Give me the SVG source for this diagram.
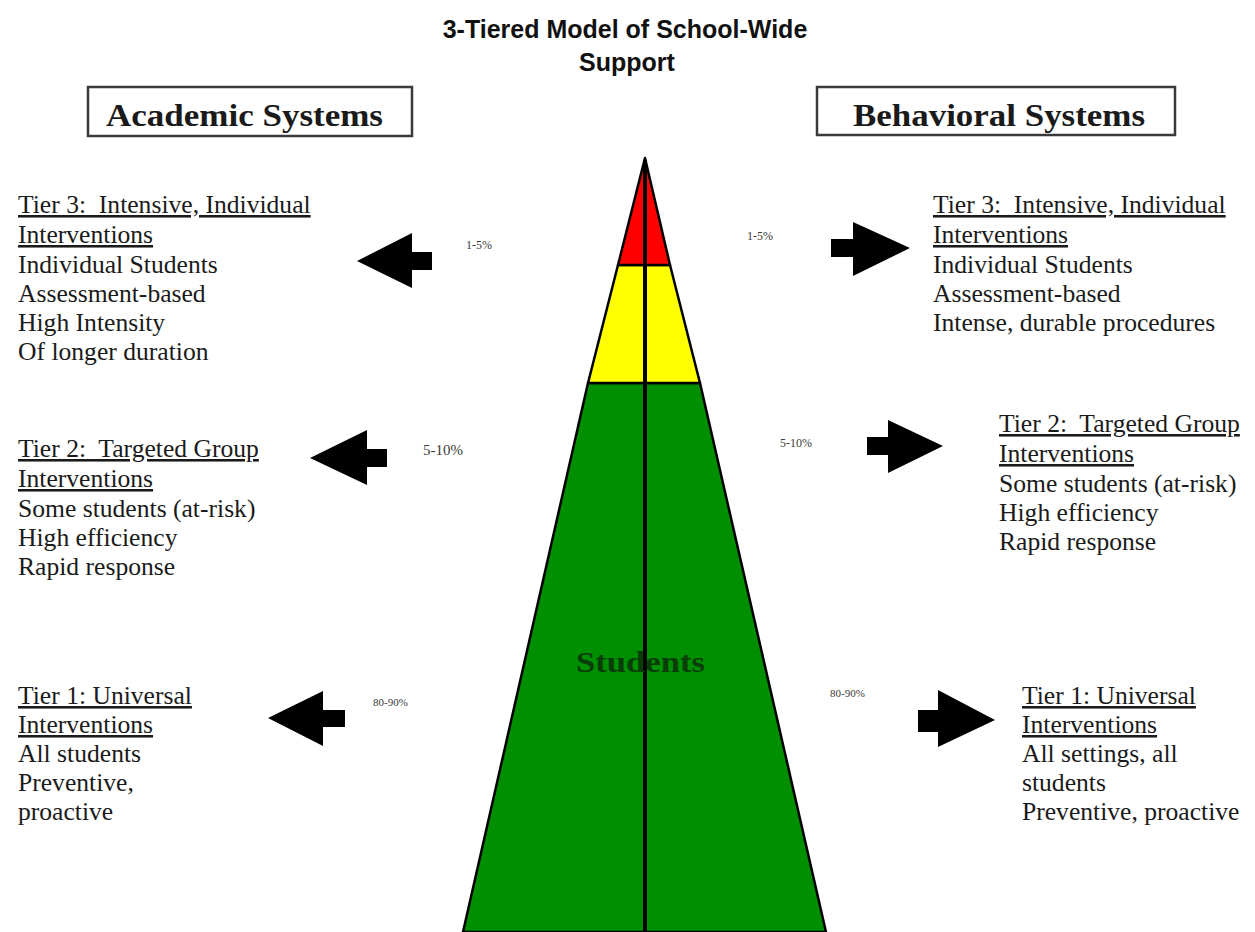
<svg xmlns="http://www.w3.org/2000/svg" width="1255" height="932" viewBox="0 0 1255 932">
<style>
.title{font-family:"Liberation Sans",Arial,sans-serif;font-weight:bold;font-size:25px;fill:#111;text-anchor:middle}
.hdr{font-family:"Liberation Serif","Times New Roman",serif;font-weight:bold;font-size:31px;fill:#1a1a1a}
.box{fill:#fff;stroke:#3a3a3a;stroke-width:2.5}
.body{font-family:"Liberation Serif","Times New Roman",serif;font-size:25.6px;fill:#1a1a1a;white-space:pre}
.ul{text-decoration:underline}
.pct{font-family:"Liberation Serif","Times New Roman",serif;font-size:12px;fill:#3a3a3a}
.arrow{fill:#000}
.seg{stroke:#000;stroke-width:2.5;stroke-linejoin:round}
</style>
<rect width="1255" height="932" fill="#fff"/>
<g id="title">
<text class="title" x="625" y="38">3-Tiered Model of School-Wide</text>
<text class="title" x="627" y="71">Support</text>
</g>
<g id="academic-header">
<rect class="box" x="88" y="87" width="324" height="49"/>
<text class="hdr" x="106" y="126" textLength="277" lengthAdjust="spacingAndGlyphs">Academic Systems</text>
</g>
<g id="behavioral-header">
<rect class="box" x="817" y="87" width="358" height="48"/>
<text class="hdr" x="853" y="126" textLength="292" lengthAdjust="spacingAndGlyphs">Behavioral Systems</text>
</g>
<g id="pyramid">
<polygon class="seg" fill="#008f00" points="588,383 700,383 826,932 463,932"/>
<polygon class="seg" fill="#ffff00" points="618,265 670,265 700,383 588,383"/>
<polygon class="seg" fill="#ff0000" points="645,158 670,265 618,265"/>
<line x1="645" y1="160" x2="645" y2="932" stroke="#000" stroke-width="4"/>
<text x="576" y="672" font-family="Liberation Serif,Times New Roman,serif" font-weight="bold" font-size="30" fill="#0b3d0b" textLength="129" lengthAdjust="spacingAndGlyphs">Students</text>
</g>
<g id="connectors">
<polygon class="arrow" points="357,261 412,233 412,252 432,252 432,270 412,270 412,288"/>
<polygon class="arrow" points="310,458 367,430 367,449 387,449 387,467 367,467 367,485"/>
<polygon class="arrow" points="268,718 323,691 323,710 345,710 345,727 323,727 323,746"/>
<polygon class="arrow" points="910,248 853,222 853,239 831,239 831,257 853,257 853,276"/>
<polygon class="arrow" points="943,446 888,420 888,437 867,437 867,455 888,455 888,473"/>
<polygon class="arrow" points="995,720 938,690 938,710 918,710 918,732 938,732 938,747"/>
</g>
<g id="percentages">
<text class="pct" x="466" y="249">1-5%</text>
<text class="pct" x="747" y="240">1-5%</text>
<text class="pct" x="423" y="455" style="font-size:15px">5-10%</text>
<text class="pct" x="780" y="447">5-10%</text>
<text class="pct" x="373" y="706" style="font-size:11px">80-90%</text>
<text class="pct" x="830" y="697" style="font-size:11px">80-90%</text>
</g>
<g id="academic-tier3">
<text class="body" x="18"><tspan class="ul" x="18" y="213">Tier 3:  Intensive, Individual</tspan><tspan class="ul" x="18" y="243">Interventions</tspan><tspan x="18" y="273">Individual Students</tspan><tspan x="18" y="302">Assessment-based</tspan><tspan x="18" y="331">High Intensity</tspan><tspan x="18" y="360">Of longer duration</tspan></text>
</g>
<g id="academic-tier2">
<text class="body" x="18"><tspan class="ul" x="18" y="457">Tier 2:  Targeted Group</tspan><tspan class="ul" x="18" y="487">Interventions</tspan><tspan x="18" y="517">Some students (at-risk)</tspan><tspan x="18" y="546">High efficiency</tspan><tspan x="18" y="575">Rapid response</tspan></text>
</g>
<g id="academic-tier1">
<text class="body" x="18"><tspan class="ul" x="18" y="704">Tier 1: Universal</tspan><tspan class="ul" x="18" y="733">Interventions</tspan><tspan x="18" y="762">All students</tspan><tspan x="18" y="791">Preventive,</tspan><tspan x="18" y="820">proactive</tspan></text>
</g>
<g id="behavioral-tier3">
<text class="body" x="933"><tspan class="ul" x="933" y="213">Tier 3:  Intensive, Individual</tspan><tspan class="ul" x="933" y="243">Interventions</tspan><tspan x="933" y="273">Individual Students</tspan><tspan x="933" y="302">Assessment-based</tspan><tspan x="933" y="331">Intense, durable procedures</tspan></text>
</g>
<g id="behavioral-tier2">
<text class="body" x="999"><tspan class="ul" x="999" y="432">Tier 2:  Targeted Group</tspan><tspan class="ul" x="999" y="462">Interventions</tspan><tspan x="999" y="492">Some students (at-risk)</tspan><tspan x="999" y="521">High efficiency</tspan><tspan x="999" y="550">Rapid response</tspan></text>
</g>
<g id="behavioral-tier1">
<text class="body" x="1022"><tspan class="ul" x="1022" y="704">Tier 1: Universal</tspan><tspan class="ul" x="1022" y="733">Interventions</tspan><tspan x="1022" y="762">All settings, all</tspan><tspan x="1022" y="791">students</tspan><tspan x="1022" y="820">Preventive, proactive</tspan></text>
</g>
</svg>
